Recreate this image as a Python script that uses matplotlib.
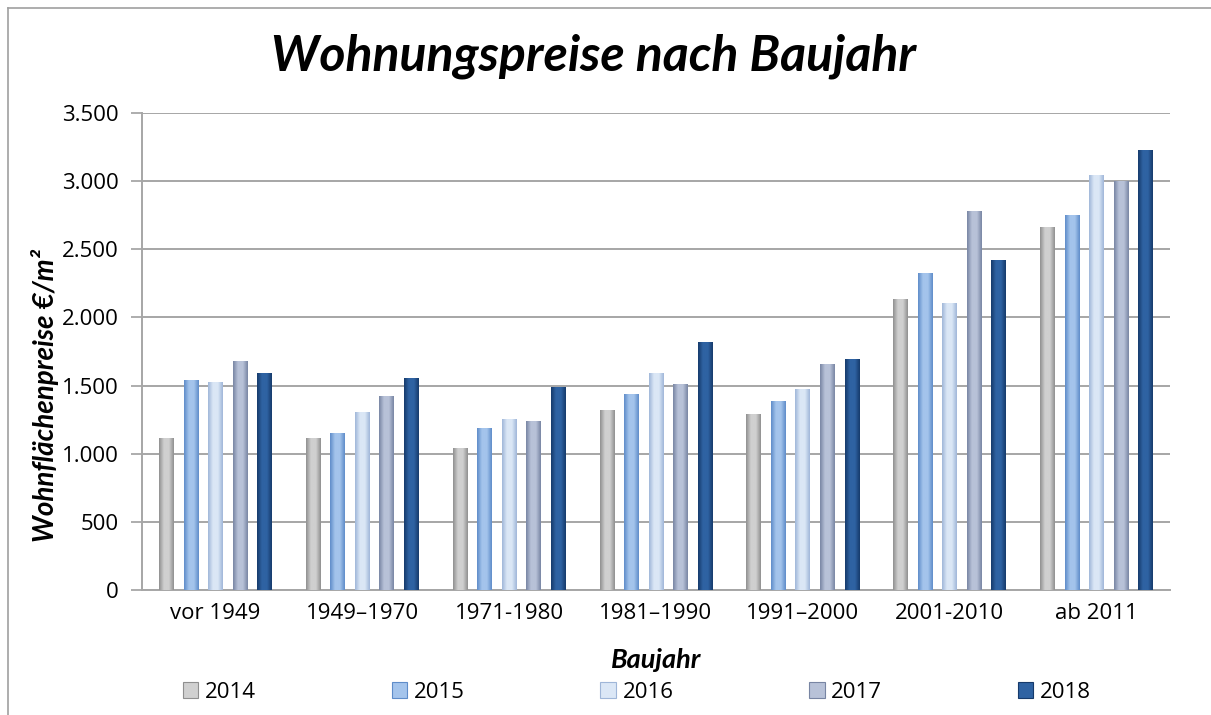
import numpy as np
import matplotlib
matplotlib.use("Agg")
import matplotlib.pyplot as plt
from matplotlib.colors import LinearSegmentedColormap
from matplotlib.patches import Rectangle
from matplotlib.ticker import FuncFormatter

categories = ["vor 1949", "1949–1970", "1971-1980", "1981–1990",
              "1991–2000", "2001-2010", "ab 2011"]
years = ["2014", "2015", "2016", "2017", "2018"]

p2014 = [1115, 1110, 1040, 1320, 1285, 2135, 2660]
p2015 = [1540, 1148, 1188, 1435, 1385, 2322, 2750]
p2016 = [1522, 1300, 1250, 1588, 1470, 2103, 3044]
p2017 = [1678, 1422, 1238, 1507, 1654, 2774, 2995]
p2018 = [1588, 1551, 1483, 1815, 1690, 2420, 3222]
series = [p2014, p2015, p2016, p2017, p2018]

# (edge, middle) colours for the cylinder-ish shading
shades = [("#8f8f8f", "#d0d0d0"),
          ("#5e8cc9", "#a4c4ec"),
          ("#9fb6d8", "#dbe7f6"),
          ("#7885a3", "#b8c2d8"),
          ("#163a6b", "#2f63a3")]

plt.rcParams["font.family"] = ["Open Sans", "DejaVu Sans"]
bold_font = ["Lato", "DejaVu Sans"]

fig = plt.figure(figsize=(12.11, 7.15), dpi=100)
ax = fig.add_axes([0.1173, 0.1748, 0.8488, 0.6672])

step = 0.167
width = 0.10
for i, (vals, (c_edge, c_mid)) in enumerate(zip(series, shades)):
    cmap = LinearSegmentedColormap.from_list(f"s{i}", [c_edge, c_mid, c_mid, c_edge])
    grad = np.linspace(0, 1, 64).reshape(1, -1)
    offset = (i - 2) * step
    for j, v in enumerate(vals):
        x0 = j + offset - width / 2
        ax.imshow(grad, cmap=cmap, aspect="auto", extent=(x0, x0 + width, 0, v),
                  zorder=3, interpolation="bicubic")

ax.set_xlim(-0.5, len(categories) - 0.5)
ax.set_ylim(0, 3500)
ax.set_yticks(np.arange(0, 3501, 500))
ax.yaxis.set_major_formatter(FuncFormatter(lambda v, _: f"{int(v):,}".replace(",", ".")))
ax.set_xticks(range(len(categories)))
ax.set_xticklabels(categories)
ax.tick_params(axis="x", length=0, pad=9, labelsize=16)
ax.tick_params(axis="y", length=8, width=1.2, color="#a0a0a0", pad=9, labelsize=16)
ax.yaxis.grid(True, color="#a6a6a6", linewidth=1.4, zorder=0)
ax.set_axisbelow(True)
for s in ["top", "right"]:
    ax.spines[s].set_visible(False)
for s in ["left", "bottom"]:
    ax.spines[s].set_color("#a6a6a6")
    ax.spines[s].set_linewidth(1.4)

fig.text(0.49, 0.922, "Wohnungspreise nach Baujahr", ha="center", va="center",
         fontsize=36, fontweight="bold", fontstyle="italic", family=bold_font)
fig.text(0.037, 0.447, "Wohnflächenpreise €/m²", ha="center", va="center", rotation=90,
         fontsize=20, fontweight="bold", fontstyle="italic", family=bold_font)
fig.text(0.5415, 0.077, "Baujahr", ha="center", va="center",
         fontsize=19.5, fontweight="bold", fontstyle="italic", family=bold_font)

handles = [Rectangle((0, 0), 1, 1, facecolor=m, edgecolor=e, linewidth=0.8)
           for e, m in shades]
fig.legend(handles, years, loc="center", bbox_to_anchor=(0.526, 0.032), ncol=5,
           frameon=False, fontsize=16, handlelength=0.7, handleheight=0.7,
           handletextpad=0.3, columnspacing=6.1)

# chart frame (left and top)
fig.add_artist(plt.Line2D([0.0066, 0.0066], [0, 0.989], color="#a0a0a0", lw=1.2))
fig.add_artist(plt.Line2D([0.0066, 1.0], [0.989, 0.989], color="#a0a0a0", lw=1.2))

fig.savefig("out.png", dpi=100)
